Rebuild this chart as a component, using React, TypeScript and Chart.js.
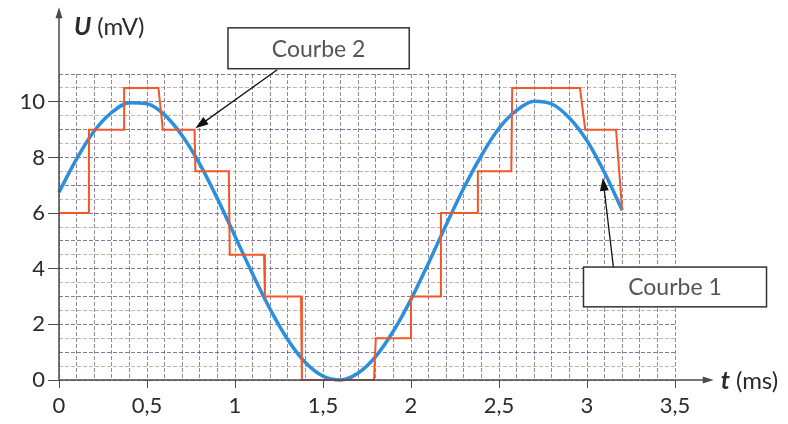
import React, { useEffect, useRef } from "react";
import { Chart, registerables } from "chart.js";

Chart.register(...registerables);

// Courbe 1 (signal analogique) : temps (ms) et tension (mV)
const blueT = [0, 0.1, 0.2, 0.3, 0.4, 0.5, 0.6, 0.7, 0.8, 0.9, 1.0, 1.1, 1.2, 1.3, 1.4, 1.5, 1.6, 1.7, 1.8, 1.9, 2.0, 2.1, 2.2, 2.3, 2.4, 2.5, 2.6, 2.7, 2.8, 2.9, 3.0, 3.1, 3.2];
const blueU = [6.75, 7.95, 8.95, 9.62, 9.97, 9.93, 9.53, 8.78, 7.76, 6.52, 5.17, 3.81, 2.54, 1.45, 0.63, 0.14, 0.0, 0.25, 0.85, 1.76, 2.9, 4.21, 5.58, 6.9, 8.07, 9.05, 9.69, 10.02, 9.92, 9.42, 8.6, 7.45, 6.1];

// Courbe 2 (signal numérisé, en escalier)
const orangeT = [0, 0.17, 0.17, 0.37, 0.37, 0.565, 0.59, 0.77, 0.775, 0.965, 0.97, 1.165, 1.17, 1.375, 1.38, 1.79, 1.8, 2.0, 2.0, 2.165, 2.17, 2.375, 2.38, 2.57, 2.575, 2.96, 2.99, 3.165, 3.2];
const orangeU = [6, 6, 9, 9, 10.5, 10.5, 9, 9, 7.5, 7.5, 4.5, 4.5, 3, 3, 0, 0, 1.5, 1.5, 3, 3, 6, 6, 7.5, 7.5, 10.5, 10.5, 9, 9, 6.1];

const xTickLabels = ["0", "0,5", "1", "1,5", "2", "2,5", "3", "3,5"];
const yTickLabels = ["0", "2", "4", "6", "8", "10"];

const FONT = "Lato, 'Noto Sans', sans-serif";

const isMajorX = (v: number) => Math.abs(v * 2 - Math.round(v * 2)) < 1e-6;
const isMajorY = (v: number) => Math.abs(v / 2 - Math.round(v / 2)) < 1e-6 && v <= 10.001;

function drawArrowHead(ctx: CanvasRenderingContext2D, x1: number, y1: number, x2: number, y2: number, len: number, half: number) {
  const a = Math.atan2(y2 - y1, x2 - x1);
  ctx.beginPath();
  ctx.moveTo(x2, y2);
  ctx.lineTo(x2 - len * Math.cos(a) + half * Math.sin(a), y2 - len * Math.sin(a) - half * Math.cos(a));
  ctx.lineTo(x2 - len * Math.cos(a) - half * Math.sin(a), y2 - len * Math.sin(a) + half * Math.cos(a));
  ctx.closePath();
  ctx.fill();
}

const decorPlugin = {
  id: "decor",
  afterDraw(chart: any) {
    const ctx = chart.ctx as CanvasRenderingContext2D;
    const xs = chart.scales.x;
    const ys = chart.scales.y;
    const X = (v: number) => xs.getPixelForValue(v);
    const Y = (v: number) => ys.getPixelForValue(v);
    ctx.save();
    // axes
    ctx.strokeStyle = "#4a4a55";
    ctx.fillStyle = "#4a4a55";
    ctx.lineWidth = 1.5;
    ctx.beginPath();
    ctx.moveTo(X(0), Y(0));
    ctx.lineTo(X(0), Y(13.1));
    ctx.stroke();
    drawArrowHead(ctx, X(0), Y(12), X(0), Y(13.4), 11, 3.5);
    ctx.beginPath();
    ctx.moveTo(X(0), Y(0));
    ctx.lineTo(X(3.68), Y(0));
    ctx.stroke();
    drawArrowHead(ctx, X(3.5), Y(0), X(3.72), Y(0), 11, 3.5);

    // axis titles
    ctx.fillStyle = "#2a2a2a";
    ctx.textBaseline = "middle";
    ctx.textAlign = "left";
    ctx.font = `italic bold 25px ${FONT}`;
    const ux = X(0) + 15;
    const uy = Y(12.68);
    ctx.fillText("U", ux, uy);
    let w = ctx.measureText("U").width;
    ctx.font = `24px ${FONT}`;
    ctx.fillText("(mV)", ux + w + 6, uy);

    ctx.font = `italic bold 25px ${FONT}`;
    const tx = X(3.76);
    const ty = Y(0) + 1;
    ctx.fillText("t", tx, ty);
    w = ctx.measureText("t").width;
    ctx.font = `24px ${FONT}`;
    ctx.fillText("(ms)", tx + w + 6, ty);

    // annotation boxes
    const box = (t0: number, t1: number, u0: number, u1: number, label: string) => {
      const l = X(t0), r = X(t1), tp = Y(u0), bt = Y(u1);
      ctx.fillStyle = "#ffffff";
      ctx.fillRect(l, tp, r - l, bt - tp);
      ctx.strokeStyle = "#333333";
      ctx.lineWidth = 1.5;
      ctx.strokeRect(l, tp, r - l, bt - tp);
      ctx.fillStyle = "#555555";
      ctx.font = `23px ${FONT}`;
      ctx.textAlign = "center";
      ctx.textBaseline = "middle";
      ctx.fillText(label, (l + r) / 2, (tp + bt) / 2 + 1);
    };
    const arrow = (t0: number, u0: number, t1: number, u1: number) => {
      ctx.strokeStyle = "#111111";
      ctx.fillStyle = "#111111";
      ctx.lineWidth = 1.3;
      const x1 = X(t0), y1 = Y(u0), x2 = X(t1), y2 = Y(u1);
      const a = Math.atan2(y2 - y1, x2 - x1);
      ctx.beginPath();
      ctx.moveTo(x1, y1);
      ctx.lineTo(x2 - 8 * Math.cos(a), y2 - 8 * Math.sin(a));
      ctx.stroke();
      drawArrowHead(ctx, x1, y1, x2, y2, 13, 4.5);
    };
    arrow(1.24, 11.15, 0.775, 9.05);
    box(0.96, 1.99, 12.66, 11.19, "Courbe 2");
    arrow(3.15, 4.06, 3.09, 7.27);
    box(2.98, 4.02, 4.06, 2.63, "Courbe 1");
    ctx.restore();
  },
};

export default function App() {
  const ref = useRef<HTMLCanvasElement>(null);
  useEffect(() => {
    if (!ref.current) return;
    const chart = new Chart(ref.current, {
      type: "line",
      data: {
        datasets: [
          {
            label: "Courbe 2",
            data: orangeT.map((t, i) => ({ x: t, y: orangeU[i] })),
            borderColor: "#f2572a",
            borderWidth: 2,
            pointRadius: 0,
            tension: 0,
            clip: 6,
          } as any,
          {
            label: "Courbe 1",
            data: blueT.map((t, i) => ({ x: t, y: blueU[i] })),
            borderColor: "#2d8fdc",
            borderWidth: 3.5,
            pointRadius: 0,
            cubicInterpolationMode: "monotone",
            clip: 6,
          } as any,
        ],
      },
      options: {
        animation: false,
        responsive: false,
        events: [],
        layout: { padding: { top: 74, right: 113, left: 0, bottom: 0 } },
        plugins: { legend: { display: false }, tooltip: { enabled: false } },
        scales: {
          x: {
            type: "linear",
            min: 0,
            max: 3.5,
            afterFit: (s: any) => { s.height = 44; },
            border: { display: false, dash: [4, 2] },
            grid: {
              color: "rgba(85,65,100,0.62)",
              lineWidth: 1,
              tickLength: 8,
              tickColor: (c: any) => (c.tick && isMajorX(c.tick.value) ? "#4a4a55" : "rgba(0,0,0,0)"),
            },
            ticks: {
              stepSize: 0.1,
              autoSkip: false,
              maxRotation: 0,
              padding: 5,
              color: "#2a2a2a",
              font: { family: FONT, size: 22 },
              callback: (v: any) => (isMajorX(Number(v)) ? xTickLabels[Math.round(Number(v) * 2)] : ""),
            },
          },
          y: {
            type: "linear",
            min: 0,
            max: 11,
            afterFit: (s: any) => { s.width = 59; },
            border: { display: false, dash: [4, 2] },
            grid: {
              color: (c: any) => (c.tick && Math.abs(c.tick.value - Math.round(c.tick.value)) < 1e-6 ? "rgba(85,65,100,0.7)" : "rgba(150,120,90,0.55)"),
              lineWidth: 1,
              tickLength: 11,
              tickColor: (c: any) => (c.tick && isMajorY(c.tick.value) ? "#4a4a55" : "rgba(0,0,0,0)"),
            },
            ticks: {
              stepSize: 0.5,
              autoSkip: false,
              padding: 3,
              color: "#2a2a2a",
              font: { family: FONT, size: 22 },
              callback: (v: any) => (isMajorY(Number(v)) ? yTickLabels[Math.round(Number(v) / 2)] : ""),
            },
          },
        },
      },
      plugins: [decorPlugin],
    });
    return () => chart.destroy();
  }, []);
  return (
    <div style={{ position: "fixed", left: 0, top: 0, width: 788, height: 424, background: "#ffffff" }}>
      <canvas ref={ref} width={788} height={424} style={{ display: "block" }} />
    </div>
  );
}
